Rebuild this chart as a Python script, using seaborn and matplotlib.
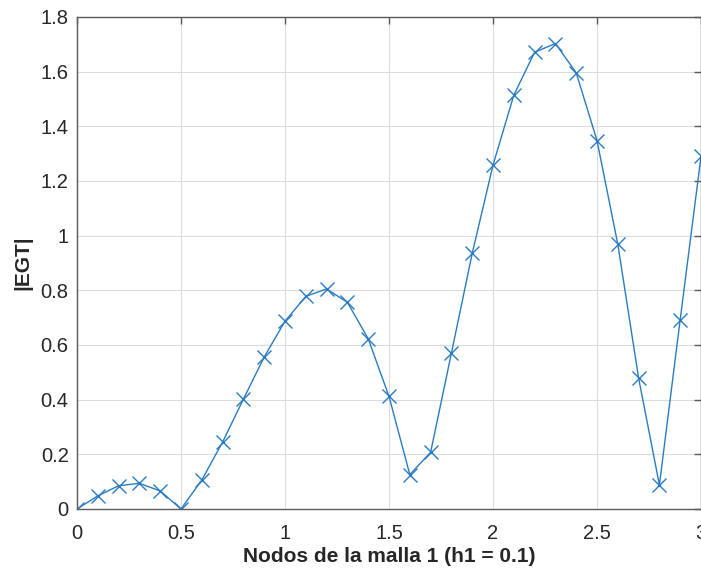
import numpy as np
import pandas as pd
import matplotlib
matplotlib.use("Agg")
import matplotlib.pyplot as plt
import seaborn as sns

nodes = [0.0, 0.1, 0.2, 0.3, 0.4, 0.5, 0.6, 0.7, 0.8, 0.9, 1.0,
         1.1, 1.2, 1.3, 1.4, 1.5, 1.6, 1.7, 1.8, 1.9, 2.0,
         2.1, 2.2, 2.3, 2.4, 2.5, 2.6, 2.7, 2.8, 2.9, 3.0]
egt = [0.0, 0.048, 0.085, 0.094, 0.066, 0.0, 0.106, 0.245, 0.402, 0.556, 0.687,
       0.778, 0.805, 0.756, 0.623, 0.412, 0.126, 0.207, 0.570, 0.935, 1.258,
       1.514, 1.671, 1.703, 1.596, 1.348, 0.969, 0.479, 0.088, 0.693, 1.290]
xticks = [0, 0.5, 1, 1.5, 2, 2.5, 3]
xticklabels = ["0", "0.5", "1", "1.5", "2", "2.5", "3"]
yticks = [0, 0.2, 0.4, 0.6, 0.8, 1.0, 1.2, 1.4, 1.6, 1.8]
yticklabels = ["0", "0.2", "0.4", "0.6", "0.8", "1", "1.2", "1.4", "1.6", "1.8"]

df = pd.DataFrame({"x": nodes, "y": egt})

sns.set_style("white")
plt.rcParams["font.family"] = ["Liberation Sans", "DejaVu Sans"]

fig = plt.figure(figsize=(7.01, 5.70), dpi=100)
ax = fig.add_axes([77/701, 61/570, 624/701, 492/570])

line_color = "#2a7bc2"
sns.lineplot(data=df, x="x", y="y", ax=ax, color=line_color, linewidth=1.0,
             marker="x", markersize=10, markeredgewidth=1.0, markeredgecolor=line_color)

ax.set_xlim(0, 3)
ax.set_ylim(0, 1.8)
ax.set_xticks(xticks)
ax.set_xticklabels(xticklabels)
ax.set_yticks(yticks)
ax.set_yticklabels(yticklabels)
ax.grid(True, color="#dcdcdc", linewidth=0.8)
ax.set_axisbelow(True)
for s in ax.spines.values():
    s.set_color("#5a5a5a")
    s.set_linewidth(1.0)
ax.tick_params(direction="in", length=5, width=1.0, color="#5a5a5a",
               labelsize=14.5, labelcolor="#262626", top=True, right=True)
ax.tick_params(axis="x", pad=11)
ax.tick_params(axis="y", pad=6)
ax.set_xlabel("Nodos de la malla 1 (h1 = 0.1)", fontsize=15, fontweight="bold",
              color="#262626", labelpad=3)
ax.set_ylabel("|EGT|", fontsize=15, fontweight="bold", color="#262626", labelpad=6)

fig.savefig("out.png", dpi=100)
